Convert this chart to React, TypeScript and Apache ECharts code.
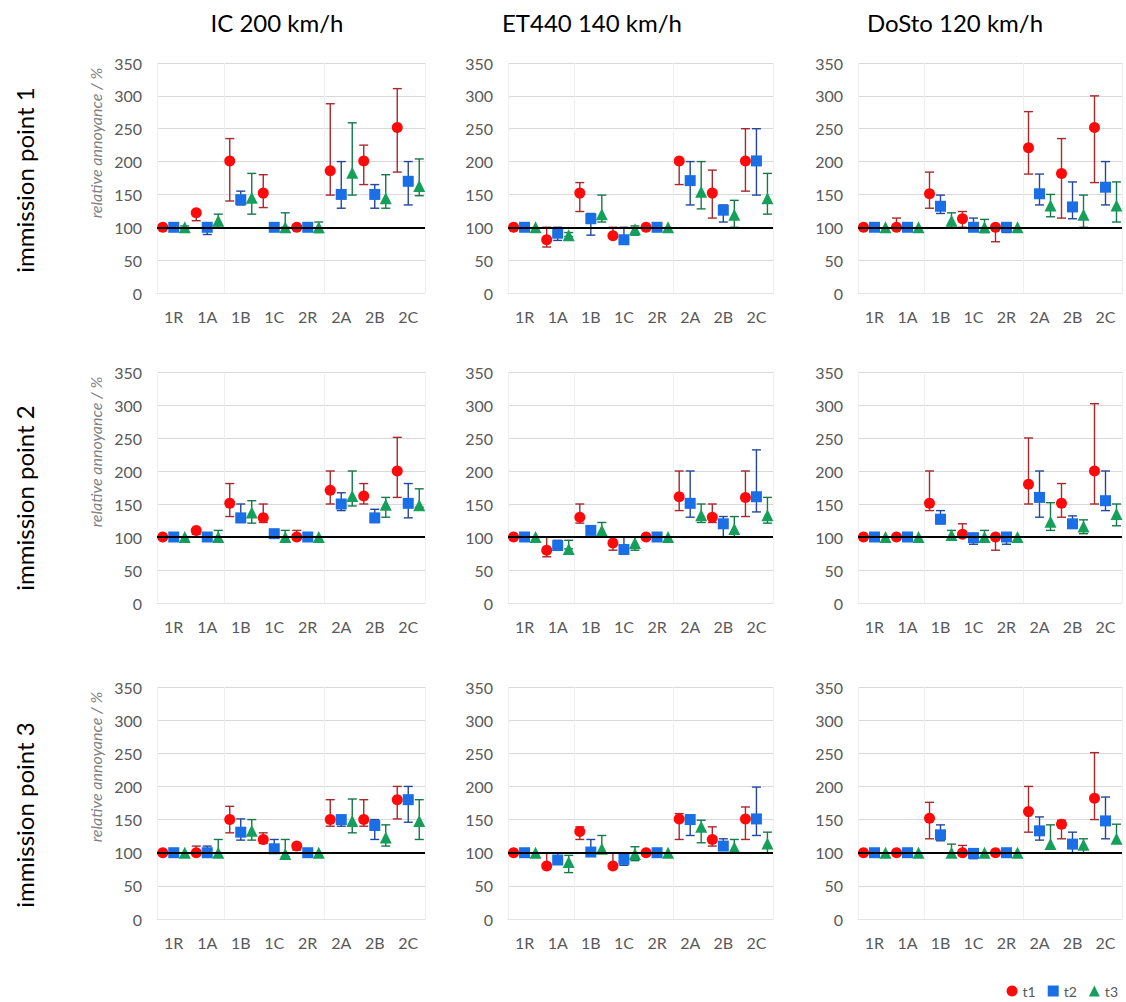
import React, { useEffect, useRef } from "react";
import * as echarts from "echarts";

const CATEGORIES = ["1R", "1A", "1B", "1C", "2R", "2A", "2B", "2C"];
const COLUMN_TITLES = ["IC 200 km/h", "ET440 140 km/h", "DoSto 120 km/h"];
const ROW_TITLES = ["immission point 1", "immission point 2", "immission point 3"];
const SERIES_NAMES = ["t1", "t2", "t3"];
const Y_MIN = 0;
const Y_MAX = 350;
const Y_STEP = 50;
const REFERENCE_LEVEL = 100;

// IC 200 km/h, immission point 1
const IC1_T1 = [100, 122, 201, 152, 100, 186, 201, 252];
const IC1_T1_ERR = [[100, 100], [110, 125], [140, 235], [130, 180], [100, 100], [149, 288], [165, 225], [184, 311]];
const IC1_T2 = [100, 100, 142, 100, 100, 150, 150, 170];
const IC1_T2_ERR = [[100, 100], [89, 100], [134, 155], [100, 100], [100, 100], [129, 200], [129, 165], [134, 200]];
const IC1_T3 = [100, 110, 145, 100, 100, 183, 144, 163];
const IC1_T3_ERR = [[97, 102], [100, 120], [120, 182], [100, 122], [92, 108], [149, 259], [129, 180], [148, 204]];

// ET440 140 km/h, immission point 1
const ET1_T1 = [100, 81, 152, 87, 100, 201, 152, 201];
const ET1_T1_ERR = [[100, 100], [70, 100], [124, 168], [85, 100], [100, 100], [165, 201], [114, 187], [155, 250]];
const ET1_T2 = [100, 91, 113, 81, 100, 171, 126, 201];
const ET1_T2_ERR = [[100, 100], [80, 100], [88, 121], [80, 100], [100, 100], [134, 200], [108, 134], [149, 250]];
const ET1_T3 = [100, 88, 120, 97, 100, 154, 119, 144];
const ET1_T3_ERR = [[100, 100], [86, 92], [108, 149], [88, 102], [100, 100], [128, 200], [100, 141], [120, 182]];

// DoSto 120 km/h, immission point 1
const DS1_T1 = [100, 100, 151, 113, 100, 221, 182, 252];
const DS1_T1_ERR = [[100, 100], [100, 114], [129, 184], [100, 124], [78, 100], [181, 276], [114, 235], [168, 300]];
const DS1_T2 = [100, 100, 132, 100, 100, 151, 131, 161];
const DS1_T2_ERR = [[100, 100], [100, 100], [121, 149], [100, 114], [92, 100], [134, 181], [113, 169], [134, 200]];
const DS1_T3 = [100, 100, 110, 100, 100, 133, 119, 133];
const DS1_T3_ERR = [[100, 100], [100, 100], [100, 122], [92, 112], [100, 100], [116, 150], [100, 149], [108, 169]];

// IC 200 km/h, immission point 2
const IC2_T1 = [100, 110, 151, 129, 100, 171, 162, 200];
const IC2_T1_ERR = [[100, 100], [104, 112], [131, 181], [122, 150], [100, 110], [150, 200], [150, 181], [160, 251]];
const IC2_T2 = [100, 100, 129, 105, 100, 150, 129, 151];
const IC2_T2_ERR = [[100, 100], [100, 100], [122, 150], [100, 108], [100, 100], [140, 167], [122, 142], [129, 181]];
const IC2_T3 = [100, 100, 137, 100, 100, 162, 149, 148];
const IC2_T3_ERR = [[100, 100], [94, 110], [121, 155], [100, 110], [100, 100], [147, 200], [130, 160], [145, 173]];

// ET440 140 km/h, immission point 2
const ET2_T1 = [100, 80, 130, 91, 100, 161, 130, 160];
const ET2_T1_ERR = [[100, 100], [70, 100], [121, 150], [80, 100], [100, 100], [140, 200], [122, 150], [131, 200]];
const ET2_T2 = [100, 87, 110, 81, 100, 151, 120, 161];
const ET2_T2_ERR = [[100, 100], [85, 95], [105, 115], [74, 100], [100, 100], [130, 200], [100, 131], [138, 232]];
const ET2_T3 = [100, 82, 110, 91, 100, 133, 112, 133];
const ET2_T3_ERR = [[100, 100], [82, 95], [100, 122], [80, 100], [100, 100], [122, 150], [100, 131], [121, 160]];

// DoSto 120 km/h, immission point 2
const DS2_T1 = [100, 100, 151, 104, 100, 180, 151, 200];
const DS2_T1_ERR = [[100, 100], [100, 100], [140, 200], [100, 120], [80, 100], [150, 250], [130, 181], [150, 302]];
const DS2_T2 = [100, 100, 127, 99, 100, 160, 120, 155];
const DS2_T2_ERR = [[100, 100], [100, 100], [120, 140], [89, 104], [89, 100], [130, 200], [118, 132], [140, 200]];
const DS2_T3 = [100, 100, 103, 100, 100, 123, 116, 135];
const DS2_T3_ERR = [[100, 100], [100, 100], [100, 110], [94, 110], [100, 100], [110, 152], [105, 126], [117, 150]];

// IC 200 km/h, immission point 3
const IC3_T1 = [100, 100, 150, 120, 110, 150, 150, 180];
const IC3_T1_ERR = [[100, 100], [100, 110], [130, 170], [114, 130], [104, 112], [140, 180], [140, 180], [151, 200]];
const IC3_T2 = [100, 100, 131, 106, 100, 150, 141, 180];
const IC3_T2_ERR = [[100, 100], [100, 110], [119, 151], [100, 120], [100, 100], [140, 156], [120, 150], [146, 200]];
const IC3_T3 = [100, 100, 133, 98, 100, 148, 123, 148];
const IC3_T3_ERR = [[100, 100], [94, 120], [119, 150], [94, 120], [100, 100], [130, 181], [110, 142], [120, 180]];

// ET440 140 km/h, immission point 3
const ET3_T1 = [100, 80, 132, 80, 100, 151, 120, 151];
const ET3_T1_ERR = [[100, 100], [80, 100], [120, 139], [80, 100], [100, 100], [120, 159], [110, 139], [120, 169]];
const ET3_T2 = [100, 89, 101, 90, 100, 150, 110, 151];
const ET3_T2_ERR = [[100, 100], [85, 100], [100, 120], [81, 100], [100, 100], [126, 157], [104, 121], [126, 199]];
const ET3_T3 = [100, 86, 106, 98, 100, 139, 108, 114];
const ET3_T3_ERR = [[100, 100], [70, 96], [100, 126], [88, 109], [100, 100], [115, 149], [100, 120], [100, 131]];

// DoSto 120 km/h, immission point 3
const DS3_T1 = [100, 100, 152, 100, 100, 162, 143, 182];
const DS3_T1_ERR = [[100, 100], [100, 100], [121, 176], [100, 111], [100, 100], [131, 200], [121, 149], [150, 251]];
const DS3_T2 = [100, 100, 127, 99, 100, 133, 113, 148];
const DS3_T2_ERR = [[100, 100], [100, 100], [118, 142], [91, 100], [100, 100], [119, 154], [100, 131], [121, 184]];
const DS3_T3 = [100, 100, 100, 100, 100, 113, 112, 121];
const DS3_T3_ERR = [[100, 100], [100, 100], [100, 113], [100, 100], [100, 100], [106, 142], [100, 121], [115, 143]];

// panels, row by row: each panel = [[t1, t1err], [t2, t2err], [t3, t3err]]
const PANELS = [
  [[IC1_T1, IC1_T1_ERR], [IC1_T2, IC1_T2_ERR], [IC1_T3, IC1_T3_ERR]],
  [[ET1_T1, ET1_T1_ERR], [ET1_T2, ET1_T2_ERR], [ET1_T3, ET1_T3_ERR]],
  [[DS1_T1, DS1_T1_ERR], [DS1_T2, DS1_T2_ERR], [DS1_T3, DS1_T3_ERR]],
  [[IC2_T1, IC2_T1_ERR], [IC2_T2, IC2_T2_ERR], [IC2_T3, IC2_T3_ERR]],
  [[ET2_T1, ET2_T1_ERR], [ET2_T2, ET2_T2_ERR], [ET2_T3, ET2_T3_ERR]],
  [[DS2_T1, DS2_T1_ERR], [DS2_T2, DS2_T2_ERR], [DS2_T3, DS2_T3_ERR]],
  [[IC3_T1, IC3_T1_ERR], [IC3_T2, IC3_T2_ERR], [IC3_T3, IC3_T3_ERR]],
  [[ET3_T1, ET3_T1_ERR], [ET3_T2, ET3_T2_ERR], [ET3_T3, ET3_T3_ERR]],
  [[DS3_T1, DS3_T1_ERR], [DS3_T2, DS3_T2_ERR], [DS3_T3, DS3_T3_ERR]],
];

// styling / layout
const FONT = "Lato, 'Noto Sans', sans-serif";
const MARKER_COLORS = ["#ff0a0a", "#1a6fe6", "#14a05a"];
const ERROR_COLORS = ["#a8282c", "#24479a", "#15784a"];
const SYMBOLS = ["circle", "rect", "triangle"];
const OFFSETS = [-11, 0, 11];
const COL_LEFT = [157, 508, 858];
const COL_WIDTH = [268, 265, 264];
const ROW_TOP = [63, 372, 687];
const ROW_HEIGHT = [230, 231, 232];
const TITLE_X = [277, 592, 955];
const ROW_LABEL_Y = [180, 498, 815];

function buildOption() {
  const grid: any[] = [];
  const xAxis: any[] = [];
  const yAxis: any[] = [];
  const series: any[] = [];
  const graphic: any[] = [];

  PANELS.forEach((panel, p) => {
    const r = Math.floor(p / 3);
    const c = p % 3;
    grid.push({
      left: COL_LEFT[c],
      top: ROW_TOP[r],
      width: COL_WIDTH[c],
      height: ROW_HEIGHT[r],
      containLabel: false,
    });
    xAxis.push({
      type: "category",
      gridIndex: p,
      data: CATEGORIES,
      boundaryGap: true,
      axisLine: { show: true, lineStyle: { color: "#e3e3e3", width: 1 } },
      axisTick: { show: false },
      axisLabel: { color: "#595959", fontSize: 16, fontFamily: FONT, margin: 15, interval: 0 },
      splitLine: {
        show: true,
        interval: (i: number) => i === 0 || i === 2 || i === 5 || i === 8,
        lineStyle: { color: "#efefef", width: 1 },
      },
    });
    yAxis.push({
      type: "value",
      gridIndex: p,
      min: Y_MIN,
      max: Y_MAX,
      interval: Y_STEP,
      axisLine: { show: false },
      axisTick: { show: false },
      axisLabel: { color: "#595959", fontSize: 16, fontFamily: FONT, margin: 15 },
      splitLine: { show: true, lineStyle: { color: "#d9d9d9", width: 1 } },
    });

    // reference line at 100
    series.push({
      type: "line",
      xAxisIndex: p,
      yAxisIndex: p,
      data: [],
      silent: true,
      z: 1,
      markLine: {
        silent: true,
        symbol: "none",
        label: { show: false },
        lineStyle: { color: "#000000", width: 2.2, type: "solid" },
        data: [{ yAxis: REFERENCE_LEVEL }],
      },
    });

    panel.forEach(([vals, errs], s) => {
      const off = OFFSETS[s];
      const col = ERROR_COLORS[s];
      series.push({
        type: "custom",
        name: SERIES_NAMES[s] + "_err",
        xAxisIndex: p,
        yAxisIndex: p,
        z: 2,
        silent: true,
        encode: { x: 0, y: [1, 2] },
        data: (errs as number[][]).map((e, i) => [i, e[0], e[1]]),
        renderItem: (params: any, api: any) => {
          const i = api.value(0);
          const lo = api.value(1);
          const hi = api.value(2);
          if (lo === hi) return null;
          const p1 = api.coord([i, lo]);
          const p2 = api.coord([i, hi]);
          const x = p1[0] + off;
          const cap = 4.5;
          const st = { stroke: col, lineWidth: 1.4 };
          return {
            type: "group",
            children: [
              { type: "line", shape: { x1: x, y1: p1[1], x2: x, y2: p2[1] }, style: st },
              { type: "line", shape: { x1: x - cap, y1: p1[1], x2: x + cap, y2: p1[1] }, style: st },
              { type: "line", shape: { x1: x - cap, y1: p2[1], x2: x + cap, y2: p2[1] }, style: st },
            ],
          };
        },
      });
      series.push({
        type: "scatter",
        name: SERIES_NAMES[s],
        xAxisIndex: p,
        yAxisIndex: p,
        z: 3,
        symbol: SYMBOLS[s],
        symbolSize: s === 2 ? 12 : 11,
        symbolOffset: [off, 0],
        itemStyle: { color: MARKER_COLORS[s], opacity: 1 },
        data: vals as number[],
      });
    });

    if (c === 0) {
      graphic.push({
        type: "text",
        x: 95,
        y: ROW_TOP[r] + 80,
        rotation: Math.PI / 2,
        style: {
          text: "relative annoyance / %",
          fill: "#7f7f7f",
          font: "italic 16px " + FONT,
          textAlign: "center",
          textVerticalAlign: "middle",
        },
      });
      graphic.push({
        type: "text",
        x: 24,
        y: ROW_LABEL_Y[r],
        rotation: Math.PI / 2,
        style: {
          text: ROW_TITLES[r],
          fill: "#000000",
          font: "24px " + FONT,
          textAlign: "center",
          textVerticalAlign: "middle",
        },
      });
    }
    if (r === 0) {
      graphic.push({
        type: "text",
        x: TITLE_X[c],
        y: 22,
        style: {
          text: COLUMN_TITLES[c],
          fill: "#000000",
          font: "24px " + FONT,
          textAlign: "center",
          textVerticalAlign: "middle",
        },
      });
    }
  });

  return {
    animation: false,
    backgroundColor: "#ffffff",
    grid,
    xAxis,
    yAxis,
    series,
    graphic,
    legend: {
      data: [
        { name: "t1", icon: "circle" },
        { name: "t2", icon: "rect" },
        { name: "t3", icon: "triangle" },
      ],
      right: 6,
      top: 982,
      padding: 2,
      itemWidth: 11,
      itemHeight: 11,
      itemGap: 12,
      textStyle: { color: "#595959", fontSize: 14, fontFamily: FONT },
      selectedMode: false,
    },
  };
}

export default function App() {
  const ref = useRef<HTMLDivElement | null>(null);
  useEffect(() => {
    document.body.style.margin = "0";
    if (!ref.current) return;
    const chart = echarts.init(ref.current, undefined, { renderer: "svg" });
    chart.setOption(buildOption() as any);
    return () => {
      chart.dispose();
    };
  }, []);
  return <div ref={ref} style={{ width: 1126, height: 1002 }} />;
}
